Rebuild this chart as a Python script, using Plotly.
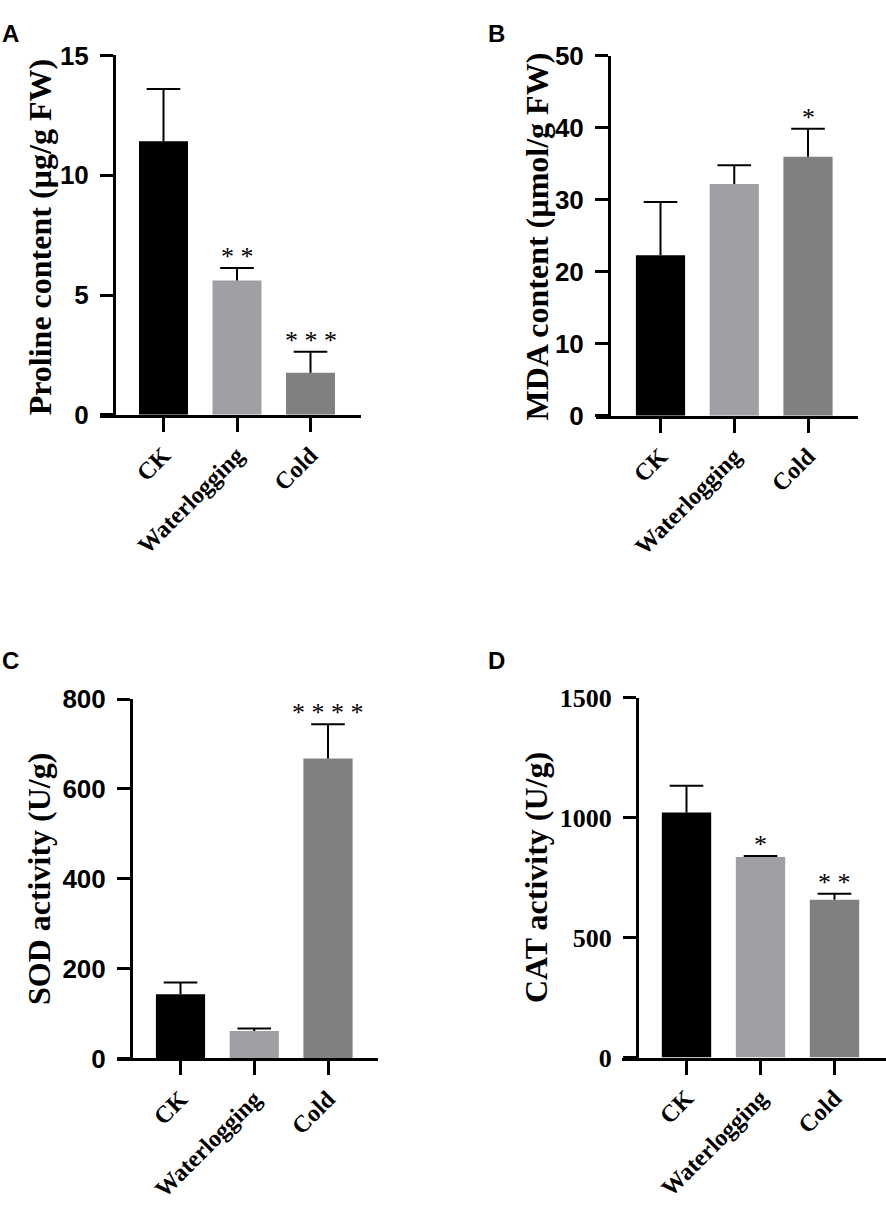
import plotly.graph_objects as go

W, H = 886, 1211

categories = ["CK", "Waterlogging", "Cold"]
bar_colors = ["#000000", "#a0a0a4", "#808080"]

proline_mean = [11.42, 5.61, 1.76]
proline_err = [2.18, 0.52, 0.87]
proline_sig = ["", "* *", "* * *"]

mda_mean = [22.3, 32.2, 36.0]
mda_err = [7.4, 2.6, 3.9]
mda_sig = ["", "", "*"]

sod_mean = [143, 61, 668]
sod_err = [26, 6, 76]
sod_sig = ["", "", "* * * *"]

cat_mean = [1021, 836, 658]
cat_err = [112, 4, 25]
cat_sig = ["", "*", "* *"]

y_ticks_a = [0, 5, 10, 15]
y_ticks_b = [0, 10, 20, 30, 40, 50]
y_ticks_c = [0, 200, 400, 600, 800]
y_ticks_d = [0, 500, 1000, 1500]

titles = ["Proline content (µg/g FW)", "MDA content (µmol/g FW)",
          "SOD activity (U/g)", "CAT activity (U/g)"]
panel_letters = ["A", "B", "C", "D"]

SANS = "Liberation Sans, Arial, sans-serif"
SERIF = "Liberation Serif, Times New Roman, serif"

panels = [
    dict(xl=100, xr=361, c0=163.5, c2=310.5, yax=114, y0=410, ytop=41.5,
         mean=proline_mean, err=proline_err, sig=proline_sig, ticks=y_ticks_a,
         tickfont=SANS, ticksize=26, title_x=40, title_y=228, letter_x=0, letter_y=18.5),
    dict(xl=596, xr=858, c0=660.5, c2=808, yax=609, y0=411, ytop=42,
         mean=mda_mean, err=mda_err, sig=mda_sig, ticks=y_ticks_b,
         tickfont=SANS, ticksize=26, title_x=537, title_y=227, letter_x=486, letter_y=18.5),
    dict(xl=117, xr=378, c0=180.5, c2=328, yax=131, y0=1070, ytop=701.5,
         mean=sod_mean, err=sod_err, sig=sod_sig, ticks=y_ticks_c,
         tickfont=SANS, ticksize=26, title_x=39, title_y=886, letter_x=0, letter_y=661.5),
    dict(xl=622, xr=886, c0=686.5, c2=834.5, yax=637, y0=1069, ytop=700,
         mean=cat_mean, err=cat_err, sig=cat_sig, ticks=y_ticks_d,
         tickfont=SERIF, ticksize=26, title_x=536, title_y=885, letter_x=486, letter_y=661.5),
]

fig = go.Figure()
annotations = []
layout = {}

for i, p in enumerate(panels):
    n = i + 1
    xa = "xaxis" if n == 1 else f"xaxis{n}"
    ya = "yaxis" if n == 1 else f"yaxis{n}"
    xr_ = "x" if n == 1 else f"x{n}"
    yr_ = "y" if n == 1 else f"y{n}"
    sp = (p["c2"] - p["c0"]) / 2.0
    r0 = -(p["c0"] - p["xl"]) / sp
    r1 = 2 + (p["xr"] - p["c2"]) / sp
    ymax = p["ticks"][-1]
    tops = [m + e for m, e in zip(p["mean"], p["err"])]

    fig.add_trace(go.Bar(
        x=categories, y=p["mean"], xaxis=xr_, yaxis=yr_,
        marker=dict(color=bar_colors, line=dict(width=0)),
        width=0.667,
        error_y=dict(type="data", symmetric=False, array=p["err"],
                     arrayminus=[0] * 3, color="#000000", thickness=2, width=0),
        showlegend=False, hoverinfo="skip",
    ))
    fig.add_trace(go.Scatter(
        x=categories, y=tops, xaxis=xr_, yaxis=yr_, mode="markers",
        marker=dict(symbol="line-ew", size=24, color="#000000",
                    line=dict(color="#000000", width=2)),
        showlegend=False, hoverinfo="skip", cliponaxis=False,
    ))

    layout[xa] = dict(
        domain=[p["xl"] / W, p["xr"] / W], range=[r0, r1], anchor=yr_,
        showline=True, linecolor="#000000", linewidth=3,
        ticks="outside", ticklen=14, tickwidth=3, tickcolor="#000000",
        tickangle=-45, showgrid=False, zeroline=False,
        tickfont=dict(family=SERIF, size=24, color="#000000", weight="bold"),
        fixedrange=True,
    )
    layout[ya] = dict(
        domain=[1 - p["y0"] / H, 1 - p["ytop"] / H], range=[0, ymax],
        anchor="free", position=p["yax"] / W,
        showline=True, linecolor="#000000", linewidth=3,
        ticks="outside", ticklen=13, tickwidth=3, tickcolor="#000000",
        tickvals=p["ticks"], showgrid=False, zeroline=False,
        ticklabelstandoff=6,
        tickfont=dict(family=p["tickfont"], size=p["ticksize"],
                      color="#000000", weight="bold"),
        fixedrange=True,
    )

    annotations.append(dict(
        text=titles[i], xref="paper", yref="paper",
        x=p["title_x"] / W, y=1 - p["title_y"] / H, textangle=-90,
        showarrow=False, xanchor="center", yanchor="middle",
        font=dict(family=SERIF, size=32, color="#000000", weight="bold"),
    ))
    annotations.append(dict(
        text=panel_letters[i], xref="paper", yref="paper",
        x=p["letter_x"] / W, y=1 - p["letter_y"] / H,
        showarrow=False, xanchor="left", yanchor="middle",
        font=dict(family=SANS, size=24, color="#000000", weight="bold"),
    ))
    for j, s in enumerate(p["sig"]):
        if s:
            annotations.append(dict(
                text=s, xref=xr_, yref=yr_, x=categories[j],
                y=tops[j], yanchor="bottom", yshift=-5,
                showarrow=False,
                font=dict(family=SERIF, size=26, color="#000000"),
            ))

fig.update_layout(
    width=W, height=H, margin=dict(l=0, r=0, t=0, b=0),
    paper_bgcolor="#ffffff", plot_bgcolor="#ffffff",
    annotations=annotations, **layout,
)

fig.write_html("out.html", config={"displayModeBar": False},
               post_script="document.body.style.margin='0px';")
